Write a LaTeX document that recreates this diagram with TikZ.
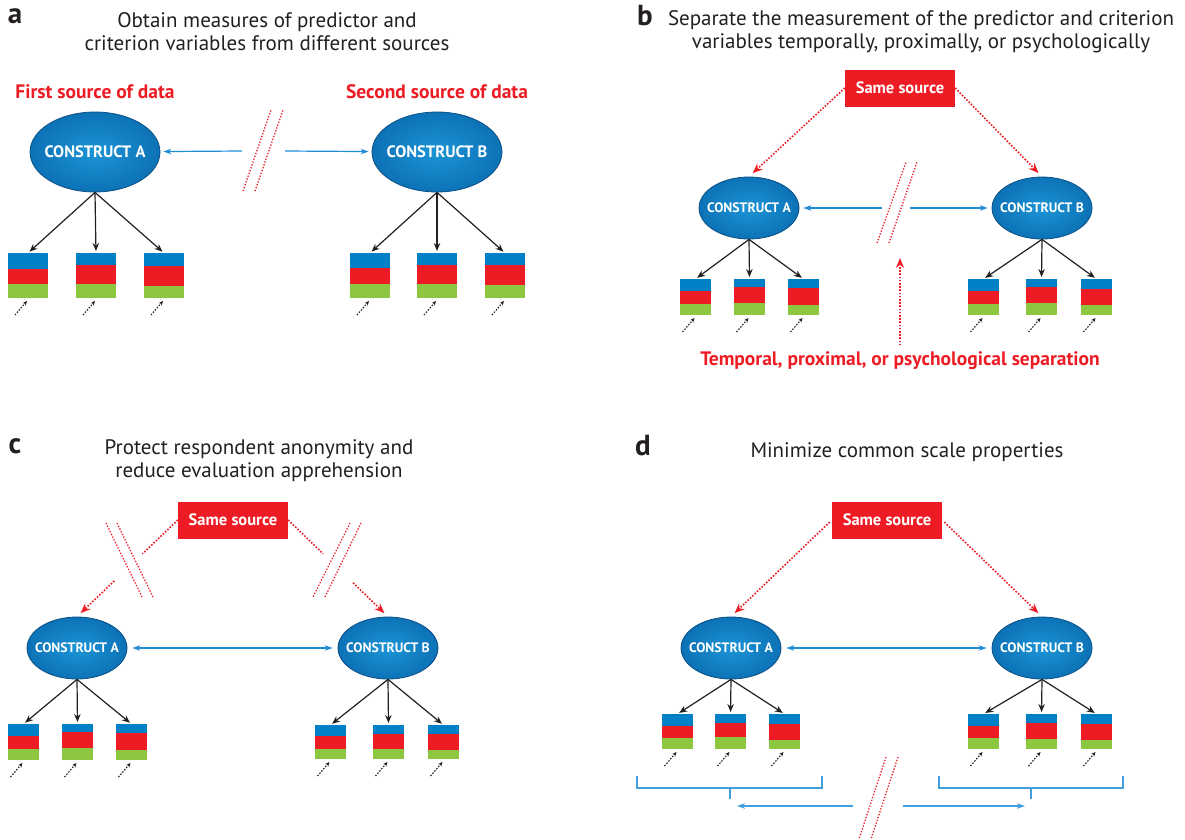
\documentclass[tikz,border=0pt]{standalone}
\usepackage{fontspec}
\setmainfont{PT Sans}
\usetikzlibrary{arrows.meta,positioning,calc,shapes.geometric}
\definecolor{srcred}{HTML}{ED1C24}
\definecolor{itblue}{HTML}{0080C6}
\definecolor{itred}{HTML}{ED1C24}
\definecolor{itgreen}{HTML}{8DC63F}
\definecolor{linkblue}{HTML}{1F8DD6}
\definecolor{ellin}{HTML}{1C94D6}
\definecolor{ellout}{HTML}{0C72B6}
\definecolor{elldraw}{HTML}{0D4F86}
\definecolor{txtgray}{HTML}{231F20}

% one indicator box: name, blue height, red height (green fills the rest)
\newcommand{\itemstack}[3]{%
  \fill[itblue] (#1.north west) rectangle ([yshift=-#2pt]#1.north east);
  \fill[itred] ([yshift=-#2pt]#1.north west) rectangle ([yshift=-#2pt-#3pt]#1.north east);
  \fill[itgreen] ([yshift=-#2pt-#3pt]#1.north west) rectangle (#1.south east);
  \draw[feed] ([shift={(-13pt,-17pt)}]#1.south) -- ([shift={(-1pt,-3pt)}]#1.south);
}
% text that does not widen the ellipse
\newcommand{\cname}[1]{\makebox[0pt]{#1}}

\begin{document}
\begin{tikzpicture}[x=1pt,y=-1pt,>=Stealth,
   construct/.style={ellipse,draw=elldraw,line width=0.8pt,inner color=ellin,outer color=ellout,
     text=white,font=\bfseries\fontsize{13.7}{15}\selectfont,inner sep=0pt,minimum width=100pt,minimum height=62pt},
   bigc/.style={minimum width=130pt,minimum height=80pt,font=\bfseries\fontsize{16.5}{18}\selectfont},
   itembox/.style={inner sep=0pt,outer sep=0pt,minimum width=31pt,minimum height=36pt},
   source/.style={fill=srcred,text=white,font=\bfseries\fontsize{16.5}{18}\selectfont,
     minimum width=110pt,minimum height=37pt,inner sep=0pt},
   srclabel/.style={text=srcred,font=\bfseries\fontsize{19.5}{22}\selectfont},
   title/.style={align=center,text=txtgray,font=\fontsize{21}{23}\selectfont},
   panel/.style={text=txtgray,font=\bfseries\fontsize{29}{31}\selectfont},
   link/.style={->,line width=1.2pt,draw=txtgray,shorten >=2pt,>={Stealth[length=8pt,width=6.5pt]}},
   feed/.style={->,line width=1.1pt,draw=txtgray,dash pattern=on 1.5pt off 1.5pt,>={Stealth[length=4.5pt,width=4pt]}},
   assoc/.style={line width=1.2pt,draw=linkblue,>={Stealth[length=8pt,width=5.5pt]}},
   samesrc/.style={line width=1.6pt,draw=srcred,dash pattern=on 1.6pt off 1.6pt,>={Stealth[length=10pt,width=8pt]}},
   brk/.style={line width=1.3pt,draw=srcred,dash pattern=on 1.3pt off 1.7pt},
   bracket/.style={line width=1.6pt,draw=linkblue!85}]
  \useasboundingbox (0,0) rectangle (1185,839);

  % ---- panel a
  \node[panel] (la) at (15,16) {a};
  \node[title] (ta) at (267,32) {Obtain measures of predictor and\\criterion variables from different sources};
  \node[srclabel] (sa1) at (95,92) {First source of data};
  \node[srclabel] (sa2) at (437,92) {Second source of data};
  \node[construct,bigc] (aA) at (95,152) {\cname{CONSTRUCT A}};
  \node[construct,bigc] (aB) at (437,152) {\cname{CONSTRUCT B}};
  \coordinate (aG1) at (242,151);
  \coordinate (aG2) at (285,151);
  \draw[assoc,->,shorten >=3pt] (aG1) -- (aA);
  \draw[assoc,->,shorten >=3pt] (aG2) -- (aB);
  \draw[brk] (243,191) -- (271,110);
  \draw[brk] (255,191) -- (283,110);
  \foreach \n/\x/\b/\r in {a1/28/16/15, a2/96/12/19, a3/164/13/20}{
    \node[itembox,minimum width=40pt,minimum height=45pt] (\n) at (\x,275.5) {};
    \itemstack{\n}{\b}{\r}
    \draw[link] (aA.south) -- (\n.north);
  }
  \foreach \n/\x/\b/\r in {a4/370/15/16, a5/437/12/19, a6/505/12/20}{
    \node[itembox,minimum width=40pt,minimum height=45pt] (\n) at (\x,275.5) {};
    \itemstack{\n}{\b}{\r}
    \draw[link] (aB.south) -- (\n.north);
  }

  % ---- panel b
  \node[panel] (lb) at (645,16) {b};
  \node[title] (tb) at (921,32) {Separate the measurement of the predictor and criterion\\variables temporally, proximally, or psychologically};
  \node[source] (sb) at (900,88) {Same source};
  \node[construct] (bA) at (749,208) {\cname{CONSTRUCT A}};
  \node[construct] (bB) at (1042,208) {\cname{CONSTRUCT B}};
  \draw[samesrc,->,shorten >=5pt] (sb.west) -- (bA.north);
  \draw[samesrc,->,shorten >=5pt] (sb.east) -- (bB.north);
  \coordinate (bG1) at (882,208);
  \coordinate (bG2) at (910,208);
  \draw[assoc,->,shorten >=4pt] (bG1) -- (bA);
  \draw[assoc,->,shorten >=4pt] (bG2) -- (bB);
  \draw[brk] (877,243) -- (906,162);
  \draw[brk] (889,243) -- (917,162);
  \foreach \n/\x/\b/\r in {b1/695.5/12/13, b2/749.5/8/16, b3/803.5/9/17}{
    \node[itembox] (\n) at (\x,297) {};
    \itemstack{\n}{\b}{\r}
    \draw[link] (bA.south) -- (\n.north);
  }
  \foreach \n/\x/\b/\r in {b4/983.5/12/13, b5/1041.5/8/16, b6/1096.5/10/16}{
    \node[itembox] (\n) at (\x,297) {};
    \itemstack{\n}{\b}{\r}
    \draw[link] (bB.south) -- (\n.north);
  }
  \node[srclabel] (sep) at (900,361) {Temporal, proximal, or psychological separation};
  \coordinate (sepTip) at (900,258);
  \draw[samesrc,->,shorten <=3pt] (sep.north) -- (sepTip);

  % ---- panel c
  \node[panel] (lc) at (15,446) {c};
  \node[title] (tc) at (259,461) {Protect respondent anonymity and\\reduce evaluation apprehension};
  \node[source] (sc) at (233,520) {Same source};
  \node[construct] (cA) at (77,648) {\cname{CONSTRUCT A}};
  \node[construct] (cB) at (388,648) {\cname{CONSTRUCT B}};
  \draw[assoc,<->,shorten <=5pt,shorten >=5pt] (cA) -- (cB);
  % broken source arrows
  \draw[samesrc] (sc.west) -- ($(sc.west)!0.35!(cA.north)$);
  \draw[samesrc,->,shorten >=5pt] ($(sc.west)!0.63!(cA.north)$) -- (cA.north);
  \draw[samesrc] (sc.east) -- ($(sc.east)!0.35!(cB.north)$);
  \draw[samesrc,->,shorten >=5pt] ($(sc.east)!0.65!(cB.north)$) -- (cB.north);
  \draw[brk] (106,523) -- (142,597);
  \draw[brk] (117,523) -- (153,597);
  \draw[brk] (350,523) -- (313,597);
  \draw[brk] (361,523) -- (325,597);
  \foreach \n/\x/\b/\r in {c1/23.5/12/13, c2/77.5/8/16, c3/131.5/9/17}{
    \node[itembox] (\n) at (\x,742) {};
    \itemstack{\n}{\b}{\r}
    \draw[link] (cA.south) -- (\n.north);
  }
  \foreach \n/\x/\b/\r in {c4/330.5/11/13, c5/388.5/9/15, c6/443.5/9/16}{
    \node[itembox,minimum height=34pt] (\n) at (\x,742) {};
    \itemstack{\n}{\b}{\r}
    \draw[link] (cB.south) -- (\n.north);
  }

  % ---- panel d
  \node[panel] (ld) at (643,446) {d};
  \node[title] (td) at (907,452) {Minimize common scale properties};
  \node[source] (sd) at (887,520) {Same source};
  \node[construct] (dA) at (731,648) {\cname{CONSTRUCT A}};
  \node[construct] (dB) at (1042,648) {\cname{CONSTRUCT B}};
  \draw[samesrc,->,shorten <=3pt,shorten >=5pt] (sd.west) -- (dA.north);
  \draw[samesrc,->,shorten <=3pt,shorten >=5pt] (sd.east) -- (dB.north);
  \draw[assoc,<->,shorten <=5pt,shorten >=5pt] (dA) -- (dB);
  \foreach \n/\x/\b/\r in {d1/677.5/12/12, d2/730.5/9/14, d3/784.5/10/16}{
    \node[itembox,minimum height=35pt] (\n) at (\x,731.5) {};
    \itemstack{\n}{\b}{\r}
    \draw[link] (dA.south) -- (\n.north);
  }
  \foreach \n/\x/\b/\r in {d4/983.5/12/12, d5/1041.5/9/16, d6/1096.5/10/16}{
    \node[itembox,minimum height=35pt] (\n) at (\x,731.5) {};
    \itemstack{\n}{\b}{\r}
    \draw[link] (dB.south) -- (\n.north);
  }
  % scale brackets
  \draw[bracket] (637,776) |- (822,788) -- (822,776);
  \draw[bracket] (730,788) -- (730,799);
  \draw[bracket] (939,776) |- (1123,788) -- (1123,776);
  \draw[bracket] (1031,788) -- (1031,799);
  \coordinate (dG1) at (853,806);
  \coordinate (dG2) at (903,806);
  \coordinate (dL) at (737,806);
  \coordinate (dR) at (1025,806);
  \draw[assoc,->,draw=linkblue!85,line width=1.5pt] (dG1) -- (dL);
  \draw[assoc,->,draw=linkblue!85,line width=1.5pt] (dG2) -- (dR);
  \draw[brk] (886,757) -- (859,839);
  \draw[brk] (898,757) -- (871,839);
\end{tikzpicture}
\end{document}
